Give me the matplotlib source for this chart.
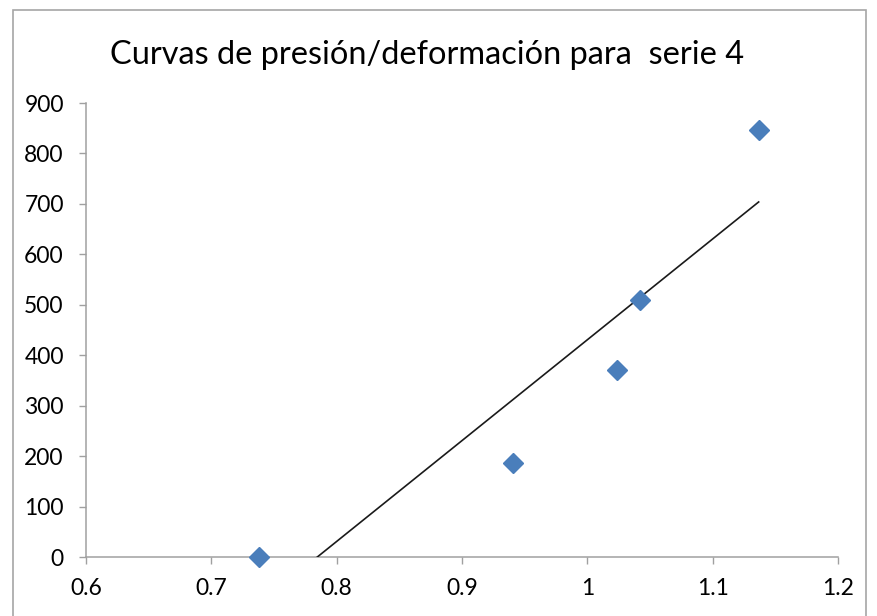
import numpy as np
import matplotlib
matplotlib.use("Agg")
import matplotlib.pyplot as plt
from matplotlib.patches import Rectangle

# datos (serie 4)
deformacion = [0.738, 0.9405, 1.0234, 1.0418, 1.1367]
presion = [0, 186, 371, 510, 847]
xticks = [0.6, 0.7, 0.8, 0.9, 1, 1.1, 1.2]
xlabels = ["0.6", "0.7", "0.8", "0.9", "1", "1.1", "1.2"]
yticks = [0, 100, 200, 300, 400, 500, 600, 700, 800, 900]

plt.rcParams['font.family'] = ['Lato', 'DejaVu Sans']

fig = plt.figure(figsize=(8.78, 6.16), dpi=100)
ax = fig.add_axes([86/878, 1-557/616, (838-86)/878, (557-103)/616])

# marco exterior del grafico
fig.patches.append(Rectangle((13/878, -0.05), (866-13)/878, 1.05-10/616,
                             transform=fig.transFigure, fill=False,
                             edgecolor="#a6a6a6", linewidth=1.2))

ax.plot(deformacion, presion, "D", color="#4a7ebb", markersize=10,
        markeredgecolor="#4a7ebb", zorder=3, clip_on=False)

# linea de tendencia lineal
coef = np.polyfit(deformacion, presion, 1)
xs = np.array([min(deformacion), max(deformacion)])
ax.plot(xs, np.polyval(coef, xs), "-", color="#1a1a1a", linewidth=1.2, zorder=2)

ax.set_xlim(0.6, 1.2)
ax.set_ylim(0, 900)
ax.set_xticks(xticks)
ax.set_xticklabels(xlabels)
ax.set_yticks(yticks)

for s in ["top", "right"]:
    ax.spines[s].set_visible(False)
for s in ["bottom", "left"]:
    ax.spines[s].set_color("#a0a0a0")
    ax.spines[s].set_linewidth(1.1)
    ax.spines[s].set_zorder(1)
ax.tick_params(axis="both", direction="out", length=5, width=1, color="#a0a0a0",
               labelsize=16.5)
ax.tick_params(axis="x", pad=10)
ax.tick_params(axis="y", pad=11)

fig.text(0.486, 0.91, "Curvas de presión/deformación para  serie 4",
         ha="center", va="center", fontsize=23.4)

fig.savefig("out.png", dpi=100)
plt.close()
